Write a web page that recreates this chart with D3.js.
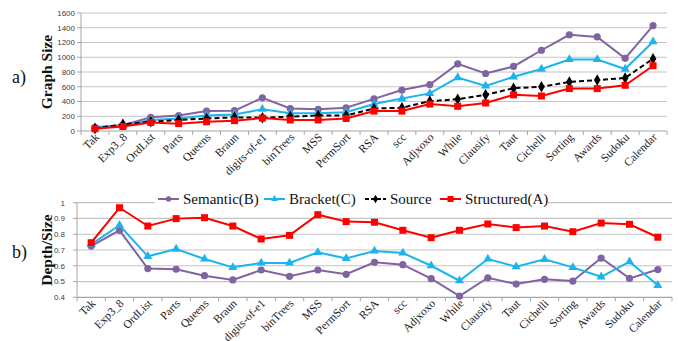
<!DOCTYPE html>
<html>
<head>
<meta charset="utf-8">
<script src="https://cdn.jsdelivr.net/npm/d3@7"></script>
<style>
  html, body { margin: 0; padding: 0; background: #fff; }
  svg { display: block; }
</style>
</head>
<body>
<svg id="chart" width="678" height="341"></svg>
<script>
// Benchmark programs along the x axis
const programs = ["Tak", "Exp3_8", "OrdList", "Parts", "Queens", "Braun", "digits-of-e1",
  "binTrees", "MSS", "PermSort", "RSA", "scc", "Adjxoxo", "While", "Clausify", "Taut",
  "Cichelli", "Sorting", "Awards", "Sudoku", "Calendar"];

// a) graph size per program
const sizeSemantic   = [50, 80, 185, 210, 270, 275, 450, 305, 295, 315, 435, 555, 630, 910, 780, 875, 1095, 1305, 1275, 985, 1430];
const sizeBracket    = [45, 75, 150, 170, 210, 225, 295, 240, 240, 255, 365, 440, 510, 725, 610, 735, 840, 970, 970, 840, 1210];
const sizeSource     = [35, 90, 125, 150, 170, 185, 180, 195, 210, 210, 305, 315, 405, 430, 490, 580, 600, 665, 690, 720, 980];
const sizeStructured = [30, 60, 115, 100, 125, 140, 175, 150, 150, 170, 270, 270, 365, 335, 380, 490, 475, 575, 575, 620, 885];

// b) depth / size ratio per program
const ratioSemantic   = [0.725, 0.825, 0.582, 0.578, 0.537, 0.51, 0.573, 0.533, 0.573, 0.546, 0.622, 0.607, 0.518, 0.408, 0.524, 0.484, 0.514, 0.503, 0.649, 0.52, 0.576];
const ratioBracket    = [0.736, 0.857, 0.66, 0.706, 0.643, 0.59, 0.618, 0.618, 0.685, 0.647, 0.694, 0.681, 0.6, 0.505, 0.643, 0.594, 0.641, 0.59, 0.53, 0.626, 0.476];
const ratioStructured = [0.746, 0.968, 0.852, 0.899, 0.905, 0.852, 0.77, 0.793, 0.924, 0.88, 0.876, 0.825, 0.778, 0.825, 0.865, 0.842, 0.852, 0.816, 0.871, 0.863, 0.781];

const sizeTicks  = [0, 200, 400, 600, 800, 1000, 1200, 1400, 1600];
const ratioTicks = [0.4, 0.5, 0.6, 0.7, 0.8, 0.9, 1];

const colors = { semantic: "#8064a2", bracket: "#1cb4ec", source: "#000000", structured: "#ff0000" };
const serif = "'Liberation Serif', 'Times New Roman', serif";
const sans = "'Liberation Sans', Arial, sans-serif";

const svg = d3.select("#chart");

function marker(g, shape, color, x, y, s) {
  if (shape === "circle") {
    g.append("circle").attr("cx", x).attr("cy", y).attr("r", s * 0.45).attr("fill", color);
  } else if (shape === "square") {
    g.append("rect").attr("x", x - s / 2).attr("y", y - s / 2).attr("width", s).attr("height", s).attr("fill", color);
  } else if (shape === "triangle") {
    g.append("path").attr("d", d3.symbol(d3.symbolTriangle, s * s * 0.55)()).attr("transform", `translate(${x},${y})`).attr("fill", color);
  } else if (shape === "diamond") {
    g.append("path").attr("d", d3.symbol(d3.symbolDiamond, s * s * 0.6)()).attr("transform", `translate(${x},${y})`).attr("fill", color);
  }
}

function panel(opts) {
  const { left, right, top, bottom, domain, ticks, tickFmt, series, labelX, labelAnchorDy } = opts;
  const g = svg.append("g");
  const x = d3.scaleBand().domain(programs).range([left, right]).padding(0);
  const y = d3.scaleLinear().domain(domain).range([bottom, top]);

  // horizontal gridlines
  g.selectAll("line.grid").data(ticks.slice(1)).join("line")
    .attr("x1", left).attr("x2", right)
    .attr("y1", d => y(d)).attr("y2", d => y(d))
    .attr("stroke", "#c4c4c4").attr("stroke-width", 1.2);

  // y axis line and ticks
  g.append("line").attr("x1", left).attr("x2", left).attr("y1", y(domain[1])).attr("y2", bottom)
    .attr("stroke", "#a6a6a6").attr("stroke-width", 1);
  g.selectAll("line.yt").data(ticks).join("line")
    .attr("x1", left - 4).attr("x2", left).attr("y1", d => y(d)).attr("y2", d => y(d))
    .attr("stroke", "#a6a6a6");
  g.selectAll("text.yl").data(ticks).join("text")
    .attr("x", opts.yLabelX).attr("y", d => y(d)).attr("dy", "0.35em")
    .attr("text-anchor", "end").attr("font-family", sans).attr("font-size", 8)
    .attr("fill", "#404040").text(tickFmt);

  // x axis line and boundary ticks
  g.append("line").attr("x1", left).attr("x2", right).attr("y1", bottom).attr("y2", bottom)
    .attr("stroke", "#a6a6a6").attr("stroke-width", 1.2);
  const bounds = programs.map(p => x(p)).concat([x.range()[1]]);
  g.selectAll("line.xt").data(bounds).join("line")
    .attr("x1", d => d).attr("x2", d => d).attr("y1", bottom).attr("y2", bottom + 4)
    .attr("stroke", "#a6a6a6");
  g.selectAll("text.xl").data(programs).join("text")
    .attr("transform", d => `translate(${x(d) + x.bandwidth() / 2 + 2},${bottom + labelAnchorDy}) rotate(-45)`)
    .attr("text-anchor", "end").attr("dy", "0.35em")
    .attr("font-family", serif).attr("font-size", 11.5).attr("fill", "#1a1a1a")
    .text(d => d);

  // series lines and markers
  const cx = p => x(p) + x.bandwidth() / 2;
  series.forEach(s => {
    const line = d3.line().x((d, i) => cx(programs[i])).y(d => y(d));
    g.append("path").attr("d", line(s.values)).attr("fill", "none")
      .attr("stroke", s.color).attr("stroke-width", 2)
      .attr("stroke-dasharray", s.dash || null);
    s.values.forEach((v, i) => marker(g, s.shape, s.color, cx(programs[i]), y(v), s.size));
  });

  // axis title
  svg.append("text")
    .attr("transform", `translate(${labelX},${(top + bottom) / 2}) rotate(-90)`)
    .attr("text-anchor", "middle").attr("dy", "0.35em")
    .attr("font-family", serif).attr("font-weight", "bold").attr("font-size", 15.5)
    .attr("fill", "#111").text(opts.title);
  svg.append("text").attr("x", 12).attr("y", (top + bottom) / 2 + opts.tagDy)
    .attr("font-family", serif).attr("font-size", 18).attr("fill", "#111").text(opts.tag);
  return { x, y };
}

panel({
  left: 81, right: 667, top: 13, bottom: 131,
  domain: [0, 1600], ticks: sizeTicks, tickFmt: d => d, yLabelX: 75,
  labelX: 47, labelAnchorDy: 4, title: "Graph Size", tag: "a)", tagDy: 11,
  series: [
    { values: sizeSemantic, color: colors.semantic, shape: "circle", size: 8 },
    { values: sizeBracket, color: colors.bracket, shape: "triangle", size: 8 },
    { values: sizeSource, color: colors.source, shape: "diamond", size: 8, dash: "5,3" },
    { values: sizeStructured, color: colors.structured, shape: "square", size: 7 }
  ]
});

panel({
  left: 77, right: 672, top: 202.7, bottom: 297.3,
  domain: [0.4, 1], ticks: ratioTicks, tickFmt: d => d3.format("")(+d.toFixed(1)), yLabelX: 65,
  labelX: 47, labelAnchorDy: 4, title: "Depth/Size", tag: "b)", tagDy: 8,
  series: [
    { values: ratioSemantic, color: colors.semantic, shape: "circle", size: 8 },
    { values: ratioBracket, color: colors.bracket, shape: "triangle", size: 8 },
    { values: ratioStructured, color: colors.structured, shape: "square", size: 7 }
  ]
});

// legend
const legendItems = [
  { name: "Semantic(B)", color: colors.semantic, shape: "circle", x: 158 },
  { name: "Bracket(C)", color: colors.bracket, shape: "triangle", x: 264 },
  { name: "Source", color: colors.source, shape: "diamond", x: 365, dash: "4,2" },
  { name: "Structured(A)", color: colors.structured, shape: "square", x: 440 }
];
const lg = svg.append("g");
lg.append("rect").attr("x", 155).attr("y", 190).attr("width", 393).attr("height", 16).attr("fill", "#fff");
legendItems.forEach(it => {
  lg.append("line").attr("x1", it.x).attr("x2", it.x + 21).attr("y1", 199).attr("y2", 199)
    .attr("stroke", it.color).attr("stroke-width", 2).attr("stroke-dasharray", it.dash || null);
  marker(lg, it.shape, it.color, it.x + 10.5, 199, 6);
  lg.append("text").attr("x", it.x + 25).attr("y", 203.5)
    .attr("font-family", serif).attr("font-size", 15).attr("fill", "#111").text(it.name);
});
</script>
</body>
</html>
